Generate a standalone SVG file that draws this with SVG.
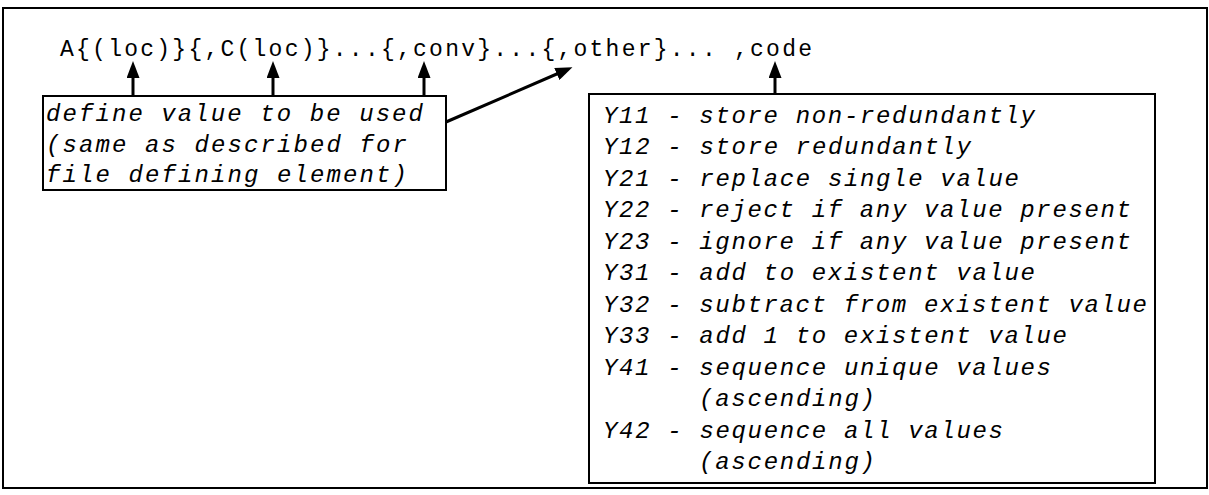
<svg xmlns="http://www.w3.org/2000/svg" width="1209" height="495" viewBox="0 0 1209 495">
  <style>
    .frame { fill: none; stroke: #000; stroke-width: 2; }
    .box { fill: none; stroke: #000; stroke-width: 2; }
    .formula { font-family: "Liberation Mono", "DejaVu Sans Mono", monospace; font-size: 23px; fill: #000; }
    .note { font-family: "Liberation Mono", "DejaVu Sans Mono", monospace; font-size: 24px; font-style: italic; fill: #000; }
    .conn { stroke: #000; stroke-width: 3; fill: none; marker-end: url(#head); }
  </style>
  <defs>
    <marker id="head" markerUnits="userSpaceOnUse" markerWidth="17" markerHeight="13" refX="10" refY="6.5" orient="auto">
      <path d="M0,0 L17,6.5 L0,13 z" fill="#000"/>
    </marker>
  </defs>
  <rect width="1209" height="495" fill="#fff"/>
  <rect class="frame" x="3" y="8" width="1204" height="480"/>

  <g id="formula">
    <text class="formula" x="60" y="56" textLength="752" lengthAdjust="spacing">A{(loc)}{,C(loc)}...{,conv}...{,other}... ,code</text>
  </g>

  <g id="define-box">
    <rect class="box" x="43" y="96" width="403" height="94"/>
    <text class="note" x="46" y="121" textLength="377" lengthAdjust="spacing">define value to be used</text>
    <text class="note" x="46" y="152" textLength="361" lengthAdjust="spacing">(same as described for</text>
    <text class="note" x="46" y="182" textLength="361" lengthAdjust="spacing">file defining element)</text>
  </g>

  <g id="code-box">
    <rect class="box" x="589" y="94" width="566" height="389"/>
    <text class="note" x="603" y="122.5" textLength="432" lengthAdjust="spacing">Y11 - store non-redundantly</text>
    <text class="note" x="603" y="154" textLength="368" lengthAdjust="spacing">Y12 - store redundantly</text>
    <text class="note" x="603" y="185.5" textLength="416" lengthAdjust="spacing">Y21 - replace single value</text>
    <text class="note" x="603" y="217" textLength="528" lengthAdjust="spacing">Y22 - reject if any value present</text>
    <text class="note" x="603" y="248.5" textLength="528" lengthAdjust="spacing">Y23 - ignore if any value present</text>
    <text class="note" x="603" y="280" textLength="432" lengthAdjust="spacing">Y31 - add to existent value</text>
    <text class="note" x="603" y="311.5" textLength="544" lengthAdjust="spacing">Y32 - subtract from existent value</text>
    <text class="note" x="603" y="343" textLength="464" lengthAdjust="spacing">Y33 - add 1 to existent value</text>
    <text class="note" x="603" y="374.5" textLength="448" lengthAdjust="spacing">Y41 - sequence unique values</text>
    <text class="note" x="699" y="406" textLength="176" lengthAdjust="spacing">(ascending)</text>
    <text class="note" x="603" y="437.5" textLength="400" lengthAdjust="spacing">Y42 - sequence all values</text>
    <text class="note" x="699" y="469" textLength="176" lengthAdjust="spacing">(ascending)</text>
  </g>

  <g id="connectors">
    <line class="conn" x1="133" y1="96" x2="133" y2="68"/>
    <line class="conn" x1="273" y1="96" x2="273" y2="68"/>
    <line class="conn" x1="424" y1="96" x2="424" y2="68"/>
    <line class="conn" x1="446" y1="122" x2="566" y2="70"/>
    <line class="conn" x1="775" y1="94" x2="775" y2="68"/>
  </g>
</svg>
